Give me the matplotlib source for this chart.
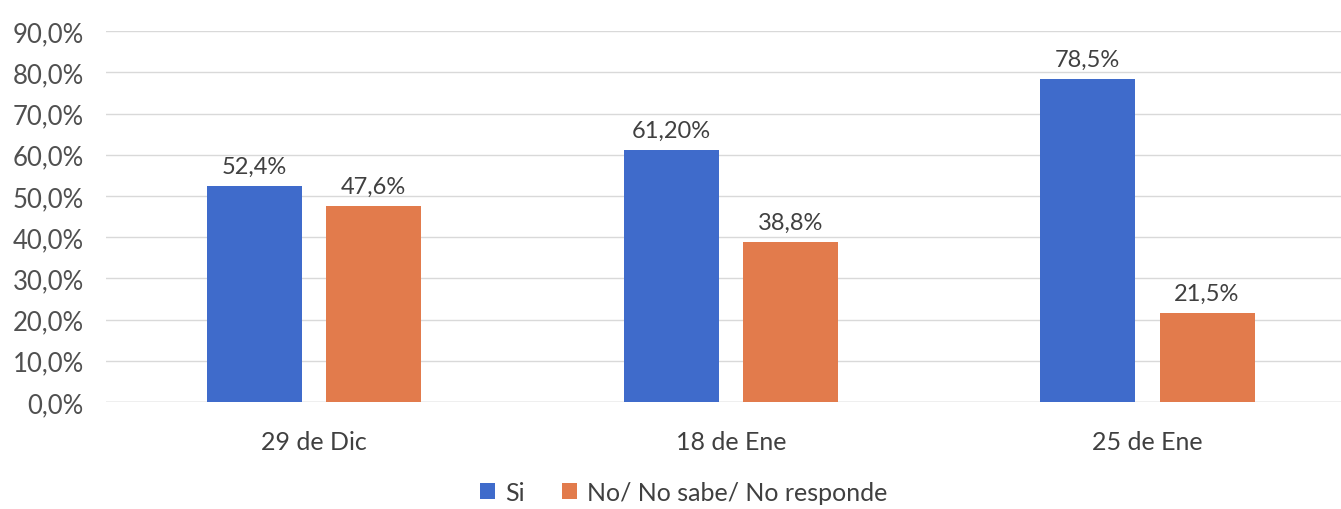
import matplotlib
matplotlib.use("Agg")
import matplotlib.pyplot as plt
import numpy as np

categories = ["29 de Dic", "18 de Ene", "25 de Ene"]
si = [52.4, 61.2, 78.5]
no = [47.6, 38.8, 21.5]
si_labels = ["52,4%", "61,20%", "78,5%"]
no_labels = ["47,6%", "38,8%", "21,5%"]
yticks = [0, 10, 20, 30, 40, 50, 60, 70, 80, 90]
series_names = ["Si", "No/ No sabe/ No responde"]

plt.rcParams['font.family'] = ['Lato', 'DejaVu Sans']
fig = plt.figure(figsize=(13.41, 5.10), dpi=100)
ax = fig.add_axes([0.079, 0.21, 0.932, 0.727])

blue = "#3f6bcb"
orange = "#e27b4c"
x = np.arange(len(categories))
w = 0.228
gap = 0.058
b1 = ax.bar(x - (w + gap) / 2, si, w, color=blue, label=series_names[0], zorder=3)
b2 = ax.bar(x + (w + gap) / 2, no, w, color=orange, label=series_names[1], zorder=3)

for rect, lab in zip(b1, si_labels):
    ax.text(rect.get_x() + rect.get_width() / 2, rect.get_height() + 2.2, lab,
            ha="center", va="bottom", fontsize=17, color="#404040")
for rect, lab in zip(b2, no_labels):
    ax.text(rect.get_x() + rect.get_width() / 2, rect.get_height() + 2.2, lab,
            ha="center", va="bottom", fontsize=17, color="#404040")

ax.set_ylim(0, 90)
ax.set_xlim(-0.5, 2.5)
ax.set_yticks(yticks)
ax.set_yticklabels([f"{v},0%" for v in yticks], fontsize=18.5, color="#505050")
ax.set_xticks(x)
ax.set_xticklabels(categories, fontsize=18, color="#404040")
ax.tick_params(axis="both", length=0)
ax.tick_params(axis="x", pad=20)
ax.tick_params(axis="y", pad=16)
ax.grid(axis="y", color="#d9d9d9", linewidth=1, zorder=0)
for s in ax.spines.values():
    s.set_visible(False)
ax.axhline(0, color="#d0d0d0", linewidth=1, zorder=2)

fig.legend(handles=[b1, b2], labels=series_names, loc="center", bbox_to_anchor=(0.51, 0.033),
           ncol=2, frameon=False, fontsize=18, handlelength=0.6, handleheight=0.6,
           handletextpad=0.4, columnspacing=1.5, labelcolor="#404040")

fig.savefig("out.png", dpi=100, facecolor="white")
